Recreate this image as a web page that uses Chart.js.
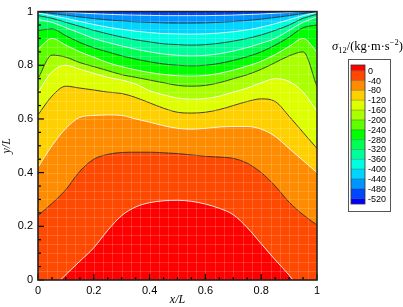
<!DOCTYPE html>
<html lang="en">
<head>
<meta charset="UTF-8">
<title>sigma12 contour</title>
<script src="https://cdn.jsdelivr.net/npm/chart.js"></script>
<style>
  body { margin: 0; background: #fff; }
  #wrap { width: 403px; height: 307px; }
</style>
</head>
<body>
<div id="wrap"><canvas id="contour" width="403" height="307"></canvas></div>
<script>
// x positions where each contour boundary is sampled
const xs = [0, 0.05, 0.1, 0.15, 0.2, 0.25, 0.3, 0.35, 0.4, 0.45, 0.5, 0.55, 0.6, 0.65, 0.7, 0.75, 0.8, 0.85, 0.9, 0.95, 1];

// y of each band boundary (bottom to top)
const b01 = [-0.08, -0.03, 0.02, 0.07, 0.12, 0.185, 0.24, 0.272, 0.288, 0.295, 0.297, 0.293, 0.283, 0.267, 0.243, 0.195, 0.135, 0.075, 0.018, -0.05, -0.1];
const b02 = [0.24, 0.285, 0.337, 0.405, 0.45, 0.468, 0.475, 0.476, 0.476, 0.474, 0.471, 0.466, 0.461, 0.458, 0.453, 0.435, 0.4, 0.35, 0.29, 0.243, 0.205];
const b03 = [0.42, 0.5, 0.565, 0.606, 0.613, 0.615, 0.613, 0.6, 0.588, 0.575, 0.565, 0.562, 0.565, 0.57, 0.572, 0.572, 0.562, 0.535, 0.49, 0.445, 0.4];
const b04 = [0.615, 0.685, 0.722, 0.715, 0.708, 0.7, 0.695, 0.68, 0.66, 0.64, 0.625, 0.622, 0.625, 0.635, 0.65, 0.665, 0.675, 0.665, 0.61, 0.55, 0.49];
const b05 = [0.7, 0.775, 0.8, 0.785, 0.77, 0.755, 0.745, 0.73, 0.705, 0.69, 0.678, 0.674, 0.676, 0.685, 0.7, 0.715, 0.735, 0.75, 0.74, 0.7, 0.63];
const b06 = [0.75, 0.838, 0.83, 0.81, 0.795, 0.78, 0.765, 0.755, 0.745, 0.735, 0.725, 0.722, 0.725, 0.735, 0.75, 0.765, 0.785, 0.81, 0.835, 0.85, 0.72];
const b07 = [0.86, 0.9, 0.875, 0.85, 0.83, 0.81, 0.795, 0.783, 0.773, 0.766, 0.761, 0.76, 0.762, 0.77, 0.782, 0.797, 0.815, 0.84, 0.87, 0.9, 0.85];
const b08 = [0.93, 0.935, 0.91, 0.885, 0.865, 0.85, 0.835, 0.823, 0.813, 0.805, 0.8, 0.798, 0.8, 0.807, 0.818, 0.832, 0.85, 0.875, 0.905, 0.94, 0.95];
const b09 = [0.97, 0.96, 0.94, 0.92, 0.9, 0.885, 0.872, 0.86, 0.85, 0.842, 0.837, 0.835, 0.837, 0.843, 0.853, 0.866, 0.882, 0.9, 0.93, 0.96, 0.98];
const b10 = [0.985, 0.975, 0.96, 0.945, 0.93, 0.917, 0.905, 0.895, 0.887, 0.88, 0.877, 0.875, 0.877, 0.882, 0.89, 0.9, 0.913, 0.93, 0.95, 0.975, 0.99];
const b11 = [0.995, 0.985, 0.975, 0.963, 0.952, 0.942, 0.934, 0.927, 0.922, 0.918, 0.917, 0.916, 0.917, 0.92, 0.925, 0.932, 0.942, 0.955, 0.97, 0.985, 0.997];
const b12 = [1, 0.993, 0.987, 0.98, 0.974, 0.969, 0.965, 0.962, 0.96, 0.958, 0.957, 0.957, 0.958, 0.96, 0.963, 0.967, 0.972, 0.978, 0.985, 0.993, 1];
const b13 = [1, 1, 0.998, 0.995, 0.992, 0.99, 0.988, 0.987, 0.986, 0.985, 0.985, 0.985, 0.985, 0.986, 0.987, 0.989, 0.991, 0.994, 0.997, 1, 1];
const topEdge = xs.map(() => 1);

// colour scale
const levels = [0, -40, -80, -120, -160, -200, -240, -280, -320, -360, -400, -440, -480, -520];
const bandColors = ['#ff0000', '#ff4800', '#ff8c00', '#ffd000', '#ddff00', '#aaff00', '#60ff00', '#00ff00',
                    '#00ff55', '#00ff9c', '#00ffe0', '#00d4ff', '#0094ff', '#0048ff', '#0000ff'];

const xTicks = [0, 0.2, 0.4, 0.6, 0.8, 1];
const yTicks = [0, 0.2, 0.4, 0.6, 0.8, 1];

const boundaries = [b01, b02, b03, b04, b05, b06, b07, b08, b09, b10, b11, b12, b13, topEdge];

let datasets = boundaries.map(function (ys, i) {
    let isTop = i === boundaries.length - 1;
    return {
        data: xs.map((x, j) => ({ x: x, y: ys[j] })),
        fill: i === 0 ? 'start' : '-1',
        backgroundColor: bandColors[i],
        borderColor: i % 2 === 0 ? '#ffffff' : '#1a1a1a',
        borderWidth: isTop ? 0 : 0.8,
        pointRadius: 0,
        cubicInterpolationMode: 'monotone'
    };
});

function tickText(v) {
    return String(Math.round(v * 10) / 10);
}

// mesh, frame, inward ticks and the colour bar
const framePlugin = {
    id: 'frame',
    afterDatasetsDraw(chart) {
        let ctx = chart.ctx;
        let a = chart.chartArea;
        let sx = chart.scales.x, sy = chart.scales.y;
        ctx.save();
        // faint mesh
        ctx.strokeStyle = 'rgba(255,255,255,0.17)';
        ctx.lineWidth = 1;
        for (let k = 1; k < 30; k++) {
            let px = Math.round(sx.getPixelForValue(k / 30)) + 0.5;
            let py = Math.round(sy.getPixelForValue(k / 30)) + 0.5;
            ctx.beginPath(); ctx.moveTo(px, a.top); ctx.lineTo(px, a.bottom); ctx.stroke();
            ctx.beginPath(); ctx.moveTo(a.left, py); ctx.lineTo(a.right, py); ctx.stroke();
        }
        // ticks
        ctx.strokeStyle = '#000';
        ctx.lineWidth = 1.2;
        for (let k = 0; k <= 20; k++) {
            let v = k / 20;
            let len = k % 4 === 0 ? 6 : 3;
            let px = sx.getPixelForValue(v);
            let py = sy.getPixelForValue(v);
            ctx.beginPath(); ctx.moveTo(px, a.bottom); ctx.lineTo(px, a.bottom - len); ctx.stroke();
            ctx.beginPath(); ctx.moveTo(a.left, py); ctx.lineTo(a.left + len, py); ctx.stroke();
        }
        // frame
        ctx.strokeStyle = '#222';
        ctx.lineWidth = 1.6;
        ctx.strokeRect(a.left, a.top, a.right - a.left, a.bottom - a.top);
        ctx.restore();
    },
    afterDraw(chart) {
        let ctx = chart.ctx;
        ctx.save();
        // legend box
        ctx.strokeStyle = '#555';
        ctx.lineWidth = 1;
        ctx.strokeRect(348.5, 59.5, 42, 152);
        let barX = 351, barW = 14, barTop = 65, step = 9.85, first = 70.7;
        let ys = [barTop, first];
        for (let i = 1; i < levels.length; i++) ys.push(first + i * step);
        ys.push(204);
        for (let i = 0; i < bandColors.length; i++) {
            ctx.fillStyle = bandColors[i];
            ctx.fillRect(barX, ys[i], barW, ys[i + 1] - ys[i]);
        }
        ctx.strokeStyle = 'rgba(0,0,0,0.45)';
        ctx.lineWidth = 0.6;
        for (let i = 1; i < ys.length - 1; i++) {
            ctx.beginPath(); ctx.moveTo(barX, ys[i]); ctx.lineTo(barX + barW, ys[i]); ctx.stroke();
        }
        ctx.strokeStyle = '#333';
        ctx.lineWidth = 0.8;
        ctx.strokeRect(barX, barTop, barW, 204 - barTop);
        ctx.fillStyle = '#000';
        ctx.font = '9px "Liberation Sans", Arial, sans-serif';
        ctx.textBaseline = 'middle';
        ctx.textAlign = 'left';
        levels.forEach(function (lv, i) {
            ctx.fillText(String(lv), 368, first + i * step + 0.5);
        });
        // title  sigma_12/(kg.m.s^-2)
        let x = 332, base = 50;
        ctx.textBaseline = 'alphabetic';
        ctx.font = 'italic 12.5px "Liberation Serif", "DejaVu Serif", serif';
        ctx.fillText('\u03c3', x, base); x += ctx.measureText('\u03c3').width;
        ctx.font = '8.5px "Liberation Serif", serif';
        ctx.fillText('12', x, base + 2.5); x += ctx.measureText('12').width;
        ctx.font = '12.5px "Liberation Serif", serif';
        ctx.fillText('/(kg\u00b7m\u00b7s', x, base); x += ctx.measureText('/(kg\u00b7m\u00b7s').width;
        ctx.font = '8.5px "Liberation Serif", serif';
        ctx.fillText('\u22122', x, base - 5); x += ctx.measureText('\u22122').width;
        ctx.font = '12.5px "Liberation Serif", serif';
        ctx.fillText(')', x, base);
        ctx.restore();
    }
};

new Chart(document.getElementById('contour'), {
    type: 'line',
    data: { datasets: datasets },
    plugins: [framePlugin],
    options: {
        responsive: false,
        animation: false,
        events: [],
        layout: { padding: { top: 4, right: 86, left: 0, bottom: 0 } },
        plugins: { legend: { display: false }, tooltip: { enabled: false } },
        scales: {
            x: {
                type: 'linear', min: 0, max: 1,
                afterFit: function (s) { s.height = 27; },
                afterBuildTicks: function (s) { s.ticks = xTicks.map(v => ({ value: v })); },
                grid: { display: false, drawTicks: false },
                border: { display: false },
                ticks: { padding: 4, color: '#000', callback: tickText,
                         font: { family: '"Liberation Sans", Arial, sans-serif', size: 11 } },
                title: { display: true, text: 'x/L', color: '#000', padding: { top: 0, bottom: 0 },
                         font: { family: '"Liberation Serif", serif', size: 12, style: 'italic' } }
            },
            y: {
                type: 'linear', min: 0, max: 1,
                afterFit: function (s) { s.width = 38; },
                afterBuildTicks: function (s) { s.ticks = yTicks.map(v => ({ value: v })); },
                grid: { display: false, drawTicks: false },
                border: { display: false },
                ticks: { padding: 5, color: '#000', callback: tickText,
                         font: { family: '"Liberation Sans", Arial, sans-serif', size: 11 } },
                title: { display: true, text: 'y/L', color: '#000', padding: { top: 0, bottom: 2 },
                         font: { family: '"Liberation Serif", serif', size: 12, style: 'italic' } }
            }
        }
    }
});
</script>
</body>
</html>
